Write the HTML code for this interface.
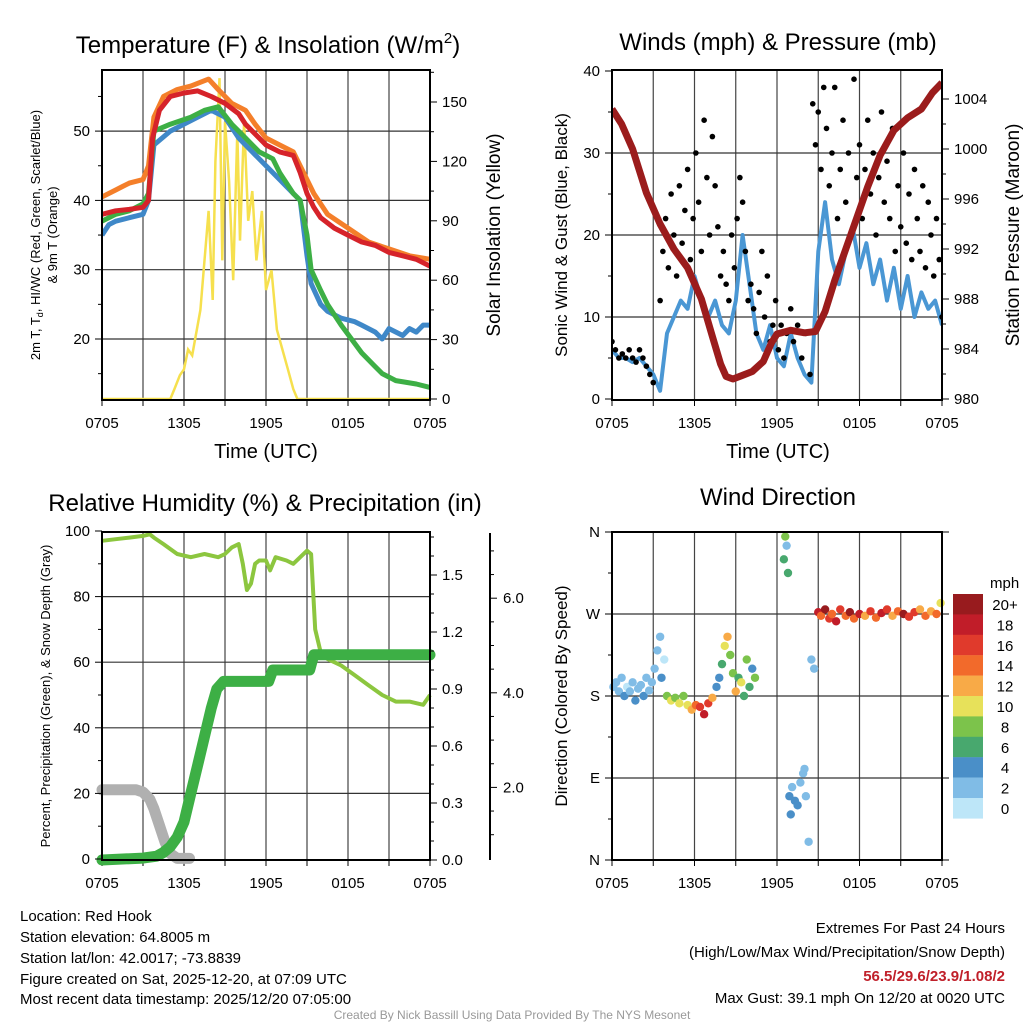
<!DOCTYPE html>
<html><head><meta charset="utf-8">
<style>
html,body{margin:0;padding:0;background:#fff;}
svg{display:block;font-family:"Liberation Sans",Arial,sans-serif;}
</style></head>
<body>
<svg id="s" width="1024" height="1024" viewBox="0 0 1024 1024" xmlns="http://www.w3.org/2000/svg">
<rect width="1024" height="1024" fill="#fff"/>
<g id="g1"></g>
<g id="g2"></g>
<g id="g3"></g>
<g id="g4"></g>
<g font-size="15" fill="#000">
<text x="20" y="921">Location: Red Hook</text>
<text x="20" y="942">Station elevation: 64.8005 m</text>
<text x="20" y="963">Station lat/lon: 42.0017; -73.8839</text>
<text x="20" y="984">Figure created on Sat, 2025-12-20, at 07:09 UTC</text>
<text x="20" y="1004">Most recent data timestamp: 2025/12/20 07:05:00</text>
<text x="1005" y="933" text-anchor="end">Extremes For Past 24 Hours</text>
<text x="1005" y="957" text-anchor="end">(High/Low/Max Wind/Precipitation/Snow Depth)</text>
<text x="1005" y="981" text-anchor="end" fill="#c0202a" font-weight="bold">56.5/29.6/23.9/1.08/2</text>
<text x="1005" y="1003" text-anchor="end">Max Gust: 39.1 mph On 12/20 at 0020 UTC</text>
<text x="512" y="1019" text-anchor="middle" font-size="12" fill="#999">Created By Nick Bassill Using Data Provided By The NYS Mesonet</text>
</g>
</svg>
<script>
// ===== data =====
const xTickLabels = ['0705','1305','1905','0105','0705'];
// Panel 1
const tRedH=[0,1,2,3,3.4,3.7,4.2,5,6,7,8,9,10,10.5,11,12,13,14,14.5,15,15.5,16,17,18,19,20,21,22,23,24];
const tRed=[38,38.5,38.7,39,40,49,53,55,55.5,55.8,55,54,52.5,51,50,48,47,46.5,44,41,39,37.5,36,35,34,33.5,32.5,32,31.5,30.5];
const tOrgH=[0,1,1.5,2,3,3.4,3.8,4.5,5.5,6.5,7.8,8.5,9.5,10.5,11.2,12,13,14,14.5,15,15.5,16.5,18,19.5,21,22.5,24];
const tOrg=[40.5,41.5,42,42.5,43,45,52,55,56,56.5,57.5,56,54,53,51,49,48,47,45,43,41,38,36,34,33,32,31.5];
const tGrnH=[0,1,2,3,3.4,3.8,5,6.5,7.5,8.5,9.5,10.5,11.5,12.5,13,14,14.5,15,15.3,16,16.5,17.5,19,20,20.5,21.5,23,24];
const tGrn=[37,38,38.5,39.5,41,50,51,52,53,53.5,51,49,47,46,44,41,40,35,30,27,25,22,18,16,15,14,13.5,13];
const tBluH=[0,0.5,1,2,3,3.4,3.8,5,6,7,8,9,10,11,12,13,14,14.5,15,15.3,16,16.5,17.5,18.5,19,20,20.5,21,22,22.5,23,23.5,24];
const tBlu=[35,36.5,37,37.5,38,40,48,50,51,52,53,52,49,47,45,43,41,40,32,28,25,24,23,22.5,22,21,20,21.5,20.5,21.5,21,22,22];
const solH=[0,5,5.3,5.7,6,6.3,6.6,7.2,7.5,7.8,8.1,8.3,8.6,8.8,9,9.3,9.6,9.9,10.1,10.4,10.7,11,11.3,11.7,12,12.4,12.8,13.2,13.6,14,14.3,15,24];
const sol=[0,0,5,12,15,25,22,45,70,95,50,120,162,70,140,110,60,135,80,140,90,105,70,95,55,65,35,25,15,5,0,0,0];
// Panel 2
const windH=[0,0.5,1,1.5,2,2.5,3,3.5,4,4.5,5,5.5,6,6.5,7,7.5,8,8.5,9,9.5,10,10.5,11,11.5,12,12.5,13,13.5,14,14.5,15,15.5,16,16.5,17,17.5,18,18.5,19,19.5,20,20.5,21,21.5,22,22.5,23,23.5,24];
const wind=[6,5,5,4.5,5,4,3,1,8,10,12,11,15,12,10,12,9,8,12,20,14,8,6,9,5,4,8,5,3,2,18,24,17,14,18,21,16,19,14,17,12,16,11,15,10,13,11,12,9];
const gustH=[0,0.25,0.5,0.75,1,1.25,1.5,1.75,2,2.25,2.5,2.75,3,3.5,3.7,3.9,4.1,4.3,4.5,4.7,4.9,5.1,5.3,5.5,5.7,5.9,6.1,6.3,6.5,6.7,6.9,7.1,7.3,7.5,7.7,7.9,8.1,8.3,8.5,8.7,8.9,9.1,9.3,9.5,9.7,9.9,10.1,10.3,10.5,10.7,10.9,11.1,11.3,11.5,11.7,11.9,12.1,12.3,12.5,12.7,13,13.2,13.5,13.8,14.1,14.4,14.6,14.8,15,15.2,15.4,15.6,15.8,16,16.2,16.4,16.6,16.8,17,17.2,17.4,17.6,17.8,18,18.2,18.4,18.6,18.8,19,19.2,19.4,19.6,19.8,20,20.2,20.4,20.6,20.8,21,21.2,21.4,21.6,21.8,22,22.2,22.4,22.6,22.8,23,23.2,23.4,23.6,23.8,24];
const gust=[7,6,5,5.5,5,6,5,4.5,6,5,4,3,2,12,18,22,16,25,20,15,26,19,23,28,17,22,30,24,18,34,27,20,32,26,21,15,18,14,12,20,16,22,27,24,18,12,14,11,8,13,18,10,15,7,9,12,6,9,5,8,11,7,9,5,8,3,36,31,35,28,38,33,26,30,38,22,28,34,24,30,20,39,27,31,22,28,34,25,30,20,27,35,24,29,22,33,18,26,21,30,19,25,17,28,22,18,26,16,24,20,15,22,17,10];
const presH=[0,0.7,1.5,2.5,3.5,4.5,5.5,6.5,7.3,7.9,8.3,8.8,9.5,10.2,11,11.6,12,13,14,14.8,15.5,16.2,17,17.8,18.6,19.5,20.5,21.5,22.5,23.3,24];
const pres=[1003.2,1002,1000,996.5,994,992,990.5,988,985,982.8,981.8,981.6,981.9,982.2,983,984.5,985.2,985.5,985.3,985.4,987,989.5,992,994.5,997,999.5,1001.5,1002.5,1003.2,1004.5,1005.3];
// Panel 3
const rhH=[0,1,2,3,3.5,3.8,4.5,5.5,6.5,7.5,8.5,9,9.5,10,10.3,10.6,10.9,11.2,11.5,12,12.3,12.7,13.5,14,14.5,15,15.3,15.6,16,16.5,17.5,18.5,19.5,20.5,21.5,22.5,23.5,24];
const rh=[97,97.5,98,98.5,99,98,96,93,92,93,92,93,95,96,90,82,84,90,91,91,88,92,91,90,92,94,93,70,63,61,59,56,53,50,48,48,47,50];
const prcH=[0,3,4,4.5,5,5.5,6,6.5,7,7.5,8,8.4,8.9,12.2,12.5,15.2,15.5,24];
const prc=[0,0.01,0.02,0.04,0.07,0.12,0.2,0.35,0.5,0.65,0.8,0.9,0.94,0.94,1.0,1.0,1.08,1.08];
const snowH=[0,2.5,3,3.5,3.8,4.2,4.6,5,5.5,6.4];
const snow=[1.95,1.95,1.9,1.75,1.55,1.2,0.85,0.6,0.5,0.5];
// Panel 4
const dirH=[0.1,0.3,0.5,0.7,0.9,1.1,1.3,1.5,1.7,1.9,2.1,2.3,2.5,2.7,2.9,3.1,3.3,3.5,3.6,3.8,4.0,4.3,4.6,4.9,5.2,5.5,5.8,6.1,6.4,6.7,7.0,7.3,7.6,7.8,8.0,8.2,8.4,8.6,8.8,9.0,9.2,9.4,9.6,9.8,10,10.2,10.4,12.5,12.6,12.7,12.8,12.9,13.0,13.1,13.3,13.5,13.7,13.9,14.0,14.1,14.3,14.5,14.7,15.0,15.2,15.5,15.8,16,16.3,16.6,17,17.3,17.6,18,18.4,18.8,19.2,19.6,20,20.4,20.8,21.2,21.6,22,22.4,22.8,23.2,23.6,23.9];
const dirDeg=[190,195,185,200,180,190,185,195,175,188,192,180,200,186,195,210,230,245,200,220,180,175,178,172,180,170,165,170,168,160,172,178,190,200,215,235,245,225,205,185,200,195,180,220,190,210,200,330,355,345,315,70,50,80,65,60,85,95,100,70,20,220,210,272,268,275,265,270,262,275,268,272,265,270,268,273,266,271,275,268,273,270,267,272,275,268,273,270,282];
const dirSpd=[3,2,3,2,4,1,3,2,4,3,2,5,2,3,3,2,2,3,4,1,9,10,8,11,9,10,12,15,17,18,16,13,5,4,6,11,13,9,8,12,6,10,7,9,6,5,8,7,8,3,6,4,4,3,5,4,3,2,2,3,2,3,2,19,15,20,17,14,18,16,14,20,15,18,13,16,14,19,17,13,14,20,16,17,13,14,12,14,10];
const spdLabels=['0','2','4','6','8','10','12','14','16','18','20+'];
const spdColors=['#bde6f8','#80bce6','#4a8fc8','#48a86e','#7cc34b','#e7e15a','#f8aa47','#f26a2b','#e03a2c','#c11d29','#981b1e'];

// ===== drawing =====
const NS='http://www.w3.org/2000/svg';
function el(parent,tag,attrs,txt){const e=document.createElementNS(NS,tag);for(const k in attrs)e.setAttribute(k,attrs[k]);if(txt!==undefined)e.textContent=txt;parent.appendChild(e);return e;}
function pathD(xs,ys,fx,fy){return xs.map((h,i)=>(i?'L':'M')+fx(h).toFixed(1)+','+fy(ys[i]).toFixed(1)).join('');}

function frame(g,x0,x1,y0,y1,hGrid,fy){
  const fx=h=>x0+(x1-x0)*h/24;
  for(let h=3;h<24;h+=3){const l=el(g,'line',{x1:fx(h),x2:fx(h),y1:y0,y2:y1,stroke:'#444','stroke-width':1.2});
    }
  hGrid.forEach(v=>{const l=el(g,'line',{x1:x0,x2:x1,y1:fy(v),y2:fy(v),stroke:'#333','stroke-width':1.2});
    });
  for(let h=0;h<=24;h+=3){el(g,'line',{x1:fx(h),x2:fx(h),y1:y1,y2:y1+6,stroke:'#000','stroke-width':1});}
  xTickLabels.forEach((t,i)=>{const tx=el(g,'text',{x:fx(i*6),y:y1+28,'text-anchor':'middle','font-size':15},t);
    });
  return fx;
}
function border(g,x0,x1,y0,y1){const r=el(g,'rect',{x:x0,y:y0,width:x1-x0,height:y1-y0,fill:'none',stroke:'#000','stroke-width':2});
  }
function yAxis(g,x,vals,labels,fy,side,minor){
  const d=side==='L'?-1:1;
  vals.forEach((v,i)=>{el(g,'line',{x1:x,x2:x+d*7,y1:fy(v),y2:fy(v),stroke:'#000','stroke-width':1});
    const t=el(g,'text',{x:x+d*12,y:fy(v)+5,'text-anchor':side==='L'?'end':'start','font-size':15},labels[i]);
    });
  (minor||[]).forEach(v=>el(g,'line',{x1:x,x2:x+d*4,y1:fy(v),y2:fy(v),stroke:'#000','stroke-width':1}));
}
function vtitle(g,x,y,txt,size,name,rot){const t=el(g,'text',{x:x,y:y,'text-anchor':'middle','font-size':size,transform:`rotate(${rot||-90} ${x} ${y})`},txt);
  return t;}
function title(g,x,y,txt,name){const t=el(g,'text',{x:x,y:y,'text-anchor':'middle','font-size':24},txt);
  return t;}

// Panel 1
(function(){
  const g=document.getElementById('g1');const x0=102,x1=430,y0=70,y1=400;
  const fy=v=>339-(v-20)*6.93, fs=v=>399-v*1.98;
  const fx=frame(g,x0,x1,y0,y1,[20,30,40,50],fy);
  const cp=el(g,'clipPath',{id:'c1'});el(cp,'rect',{x:x0,y:y0,width:x1-x0,height:y1-y0});
  const d=el(g,'g',{'clip-path':'url(#c1)'});
  let p=el(d,'path',{d:pathD(solH,sol,fx,fs),fill:'none',stroke:'#f6e04e','stroke-width':2.5});
  
  p=el(d,'path',{d:pathD(tBluH,tBlu,fx,fy),fill:'none',stroke:'#3f88c8','stroke-width':5,'stroke-linejoin':'round'});
  
  p=el(d,'path',{d:pathD(tGrnH,tGrn,fx,fy),fill:'none',stroke:'#3daf45','stroke-width':5,'stroke-linejoin':'round'});
  
  p=el(d,'path',{d:pathD(tOrgH,tOrg,fx,fy),fill:'none',stroke:'#f47f2a','stroke-width':5,'stroke-linejoin':'round'});
  
  p=el(d,'path',{d:pathD(tRedH,tRed,fx,fy),fill:'none',stroke:'#d6232a','stroke-width':5,'stroke-linejoin':'round'});
  
  border(g,x0,x1,y0,y1);
  yAxis(g,x0,[20,30,40,50],['20','30','40','50'],fy,'L',[15,25,35,45,55]);
  yAxis(g,x1,[0,30,60,90,120,150],['0','30','60','90','120','150'],fs,'R',[15,45,75,105,135,165]);
  const t=el(g,'text',{x:268,y:53,'text-anchor':'middle','font-size':24});
  
  t.innerHTML='Temperature (F) &amp; Insolation (W/m<tspan font-size="15" dy="-10">2</tspan><tspan dy="10">)</tspan>';
  el(g,'text',{x:266,y:458,'text-anchor':'middle','font-size':20},'Time (UTC)');
  const v=el(g,'text',{x:40,y:235,'text-anchor':'middle','font-size':13,transform:'rotate(-90 40 235)'});
  
  v.innerHTML='2m T, T<tspan font-size="9" dy="3">d</tspan><tspan dy="-3">, HI/WC (Red, Green, Scarlet/Blue)</tspan>';
  vtitle(g,57,235,'& 9m T (Orange)',13,'temperature-y-axis-title-line2');
  vtitle(g,500,235,'Solar Insolation (Yellow)',19,'insolation-axis-title',-90);
})();

// Panel 2
(function(){
  const g=document.getElementById('g2');const x0=612,x1=942,y0=70,y1=400;
  const fy=v=>399-v*8.2, fp=p=>399-(p-980)*12.5;
  const fx=frame(g,x0,x1,y0,y1,[10,20,30],fy);
  const cp=el(g,'clipPath',{id:'c2'});el(cp,'rect',{x:x0,y:y0,width:x1-x0,height:y1-y0});
  const d=el(g,'g',{'clip-path':'url(#c2)'});
  let p=el(d,'path',{d:pathD(windH,wind,fx,fy),fill:'none',stroke:'#4a97d4','stroke-width':4,'stroke-linejoin':'round'});
  
  gustH.forEach((h,i)=>{const c=el(d,'circle',{cx:fx(h),cy:fy(gust[i]),r:2.8,fill:'#000'});
    });
  p=el(d,'path',{d:pathD(presH,pres,fx,fp),fill:'none',stroke:'#9b1c1c','stroke-width':7,'stroke-linejoin':'round'});
  
  border(g,x0,x1,y0,y1);
  yAxis(g,x0,[0,10,20,30,40],['0','10','20','30','40'],fy,'L',[5,15,25,35]);
  yAxis(g,x1,[980,984,988,992,996,1000,1004],['980','984','988','992','996','1000','1004'],fp,'R',[982,986,990,994,998,1002]);
  title(g,778,50,'Winds (mph) & Pressure (mb)','winds-title');
  el(g,'text',{x:778,y:458,'text-anchor':'middle','font-size':20},'Time (UTC)');
  vtitle(g,567,235,'Sonic Wind & Gust (Blue, Black)',17,'wind-y-axis-title');
  vtitle(g,1019,235,'Station Pressure (Maroon)',19,'pressure-axis-title');
})();

// Panel 3
(function(){
  const g=document.getElementById('g3');const x0=102,x1=430,y0=532,y1=860;
  const fy=v=>859-v*3.28, fpr=v=>860-v*190, fsd=v=>882-v*47.3;
  const fx=frame(g,x0,x1,y0,y1,[20,40,60,80],fy);
  const cp=el(g,'clipPath',{id:'c3'});el(cp,'rect',{x:x0-6,y:y0,width:x1-x0+12,height:y1-y0+6});
  const d=el(g,'g',{'clip-path':'url(#c3)'});
  let p=el(d,'path',{d:pathD(snowH,snow,fx,fsd),fill:'none',stroke:'#b0b0b0','stroke-width':11,'stroke-linecap':'round','stroke-linejoin':'round'});
  
  p=el(d,'path',{d:pathD(rhH,rh,fx,fy),fill:'none',stroke:'#8cc63f','stroke-width':4,'stroke-linejoin':'round'});
  
  p=el(d,'path',{d:pathD(prcH,prc,fx,fpr),fill:'none',stroke:'#3daf45','stroke-width':11,'stroke-linecap':'round','stroke-linejoin':'round'});
  
  border(g,x0,x1,y0,y1);
  yAxis(g,x0,[0,20,40,60,80,100],['0','20','40','60','80','100'],fy,'L',[10,30,50,70,90]);
  yAxis(g,x1,[0,0.3,0.6,0.9,1.2,1.5],['0.0','0.3','0.6','0.9','1.2','1.5'],fpr,'R',[0.1,0.2,0.4,0.5,0.7,0.8,1.0,1.1,1.3,1.4,1.6,1.7]);
  const ax=el(g,'line',{x1:490,x2:490,y1:533,y2:860,stroke:'#000','stroke-width':2});
  
  [2,4,6].forEach(v=>{el(g,'line',{x1:490,x2:497,y1:fsd(v),y2:fsd(v),stroke:'#000'});
    const t=el(g,'text',{x:503,y:fsd(v)+5,'font-size':15},v.toFixed(1));});
  [1,3,5,7].forEach(v=>el(g,'line',{x1:490,x2:494,y1:fsd(v),y2:fsd(v),stroke:'#000'}));
  [1.5,2.5,3.5,4.5,5.5,6.5].forEach(v=>el(g,'line',{x1:490,x2:494,y1:fsd(v),y2:fsd(v),stroke:'#000'}));
  title(g,265,511,'Relative Humidity (%) & Precipitation (in)','humidity-title');
  vtitle(g,50,696,'Percent, Precipitation (Green), & Snow Depth (Gray)',13,'humidity-y-axis-title');
})();

// Panel 4
(function(){
  const g=document.getElementById('g4');const x0=612,x1=942,y0=532,y1=860;
  const fy=v=>860-v*0.9111;
  const fx=frame(g,x0,x1,y0,y1,[90,180,270],fy);
  dirH.forEach((h,i)=>{const b=Math.min(10,Math.floor(dirSpd[i]/2));
    const c=el(g,'circle',{cx:fx(h),cy:fy(dirDeg[i]),r:4.2,fill:spdColors[b]});
    });
  border(g,x0,x1,y0,y1);
  yAxis(g,x0,[0,90,180,270,360],['N','E','S','W','N'],fy,'L',[45,135,225,315]);
  [0,90,180,270,360].forEach(v=>el(g,'line',{x1:x1,x2:x1+7,y1:fy(v),y2:fy(v),stroke:'#000'}));
  title(g,778,505,'Wind Direction','wind-direction-title');
  vtitle(g,567,696,'Direction (Colored By Speed)',17,'direction-y-axis-title');
  const lg=el(g,'g',{});
  el(lg,'text',{x:990,y:588,'font-size':15},'mph');
  for(let i=0;i<11;i++){const k=10-i;const y=594+i*20.4;
    const r=el(lg,'rect',{x:953,y:y,width:30,height:20.6,fill:spdColors[k]});
    
    el(lg,'text',{x:1005,y:y+16,'text-anchor':'middle','font-size':15},spdLabels[k]);}
})();
</script>
</body></html>
